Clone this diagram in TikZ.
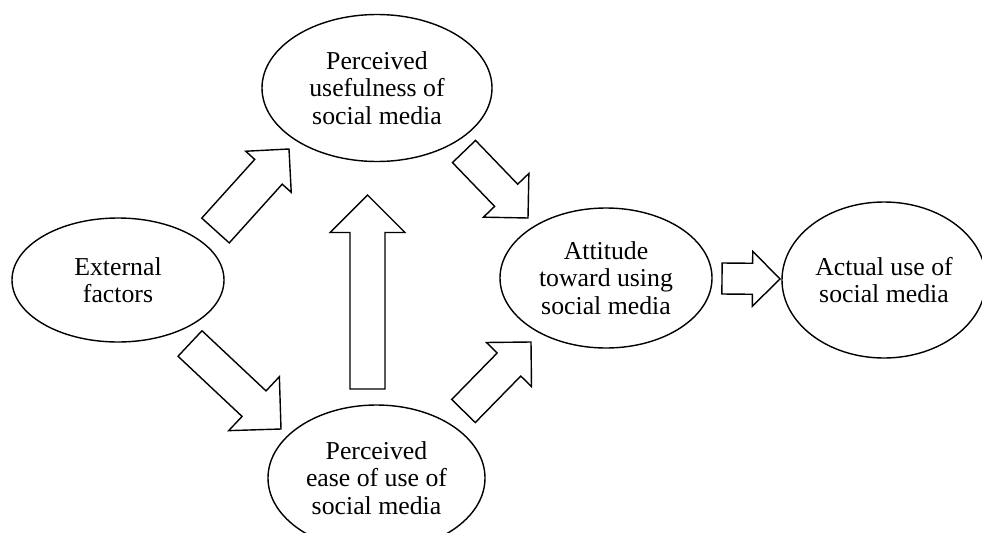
\documentclass[tikz,border=0pt]{standalone}
\usepackage{fontspec}
\setmainfont{Liberation Serif}
\usetikzlibrary{shapes.geometric, calc}
\tikzset{%
  % Specifications for style of nodes:
        base/.style = {ellipse, draw=black, line width=1.2pt,
                           inner sep=0pt, align=center,
                           font=\fontsize{22}{23.5}\selectfont},
        fat/.style = {draw=black, line width=1.2pt, fill=white,
                           line join=miter}
}
% block arrow: tail, tip, half shaft, half head (tip angle 90)
\newcommand{\fatarrow}[4]{%
  \coordinate (fatC) at ($(#2)!#4!(#1)$);
  \draw[fat] ($(#1)!#3!90:(#2)$) -- ($(fatC)!#3!-90:(#1)$)
       -- ($(fatC)!#4!-90:(#1)$) -- (#2) -- ($(fatC)!#4!90:(#1)$)
       -- ($(fatC)!#3!90:(#1)$) -- ($(#1)!#3!-90:(#2)$) -- cycle;
}

\begin{document}
\begin{tikzpicture}[x=0.03cm, y=-0.03cm]
  \useasboundingbox (0,0) rectangle (982,532);
  % Specification of nodes (position, etc.)
    \node (ext)  [base, minimum width=6.36cm, minimum height=3.72cm]
          at (118,280) {External\\factors};
    \node (use)  [base, minimum width=6.9cm, minimum height=4.41cm]
          at (377,88) {Perceived\\usefulness of\\social media};
    \node (ease) [base, minimum width=6.51cm, minimum height=4.38cm]
          at (376.5,478) {Perceived\\ease of use of\\social media};
    \node (att)  [base, minimum width=6.36cm, minimum height=4.2cm]
          at (606,278) {Attitude\\toward using\\social media};
    \node (act)  [base, minimum width=6.12cm, minimum height=4.68cm]
          at (884,280) {Actual use of\\social media};

  % Free ends of the block arrows
  \coordinate (extUseS)  at (215.5,230.5);
  \coordinate (extUseE)  at (289,149);
  \coordinate (extEaseS) at (190,343.5);
  \coordinate (extEaseE) at (281,429);
  \coordinate (easeUseS) at (367.5,389);
  \coordinate (easeUseE) at (367.5,195);
  \coordinate (useAttS)  at (464,151.5);
  \coordinate (useAttE)  at (528,218);
  \coordinate (easeAttS) at (463.5,411);
  \coordinate (easeAttE) at (531,342);
  \coordinate (attActS)  at (722,278.5);
  \coordinate (attActE)  at (780,279);

  % Block arrows between the ellipses
  \fatarrow{extUseS}{extUseE}{0.555cm}{0.92cm}
  \fatarrow{extEaseS}{extEaseE}{0.525cm}{1.11cm}
  \fatarrow{easeUseS}{easeUseE}{0.525cm}{1.125cm}
  \fatarrow{useAttS}{useAttE}{0.48cm}{0.945cm}
  \fatarrow{easeAttS}{easeAttE}{0.495cm}{0.945cm}
  \fatarrow{attActS}{attActE}{0.465cm}{0.825cm}
\end{tikzpicture}
\end{document}
